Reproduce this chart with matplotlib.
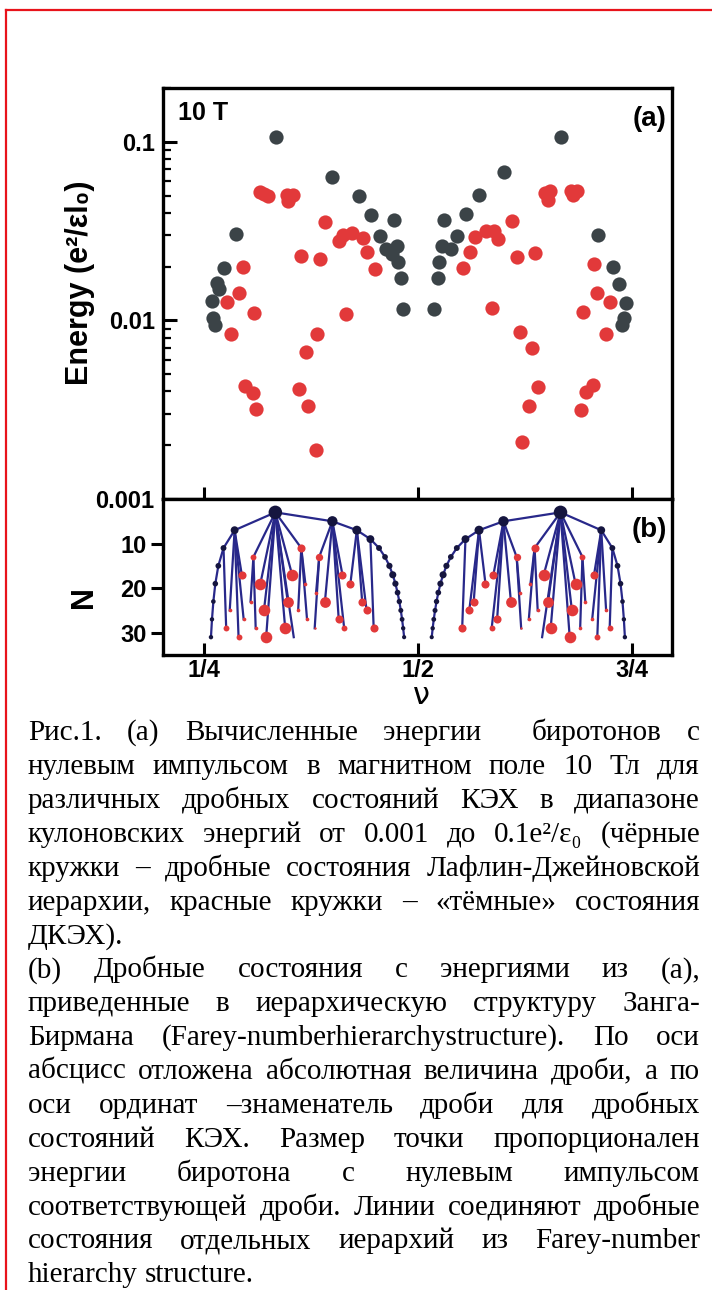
import matplotlib
matplotlib.use('Agg')
import matplotlib.pyplot as plt
from matplotlib.lines import Line2D
from matplotlib.ticker import LogLocator, NullFormatter

plt.rcParams['font.family'] = ['Liberation Sans', 'DejaVu Sans']

# ---- panel (a): energies ----
dark_nu = [0.334, 0.287, 0.273, 0.265, 0.268, 0.259, 0.260, 0.263,
           0.400, 0.431, 0.445, 0.472, 0.456, 0.463, 0.470, 0.475, 0.477, 0.480, 0.483,
           0.667, 0.601, 0.571, 0.556, 0.531, 0.546, 0.528, 0.539, 0.525, 0.523, 0.519,
           0.710, 0.728, 0.735, 0.743, 0.741, 0.739]
dark_E = [0.107, 0.0303, 0.0196, 0.0162, 0.0150, 0.0128, 0.0103, 0.0094,
          0.0633, 0.0499, 0.0388, 0.0363, 0.0295, 0.0250, 0.0235, 0.0261, 0.0211, 0.0172, 0.01155,
          0.107, 0.0676, 0.0506, 0.0395, 0.0367, 0.0297, 0.0261, 0.0250, 0.0212, 0.0173, 0.0116,
          0.0300, 0.0200, 0.0160, 0.0125, 0.0103, 0.0094]

red_nu = [0.3205, 0.325, 0.3154, 0.3466, 0.3543, 0.3485, 0.2952, 0.2913, 0.2772, 0.3088,
          0.2812, 0.2979, 0.3069, 0.3107, 0.3639, 0.3855, 0.3914, 0.408, 0.4127, 0.4225,
          0.4361, 0.4408, 0.4498, 0.4155, 0.3824, 0.3692, 0.3614, 0.3711, 0.3805,
          0.6484, 0.654, 0.6522, 0.6795, 0.6854, 0.6807, 0.6102, 0.6153, 0.6367, 0.5938,
          0.5891, 0.5794, 0.5666, 0.5607, 0.5522, 0.5867, 0.6198, 0.6328, 0.6405, 0.63,
          0.6218, 0.706, 0.7099, 0.7243, 0.6924, 0.7204, 0.7048, 0.6963, 0.6904]
red_E = [0.0511, 0.0495, 0.052, 0.0506, 0.0506, 0.0464, 0.0200, 0.0143, 0.0127, 0.0110,
         0.00844, 0.00427, 0.00392, 0.00319, 0.0228, 0.0220, 0.0357, 0.0278, 0.0300, 0.0310,
         0.0290, 0.0240, 0.0194, 0.0109, 0.00844, 0.00667, 0.00414, 0.0033, 0.00187,
         0.0516, 0.0527, 0.0474, 0.0527, 0.0532, 0.0501, 0.0359, 0.0227, 0.0237, 0.0284,
         0.0316, 0.0316, 0.0294, 0.0240, 0.0196, 0.0117, 0.00862, 0.00696, 0.00423, 0.0033,
         0.00208, 0.0206, 0.0142, 0.0126, 0.0112, 0.00836, 0.00435, 0.00398, 0.00314]

# ---- panel (b): hierarchy of fractions (numerator, denominator) ----
arc_den = [31, 27, 23, 19, 15, 11, 7, 3, 5, 7, 9, 11, 13, 15, 17, 19, 21, 23, 25, 27, 29, 31]
arcL_num = [8, 7, 6, 5, 4, 3, 2, 1, 2, 3, 4, 5, 6, 7, 8, 9, 10, 11, 12, 13, 14, 15]
arcR_num = [23, 20, 17, 14, 11, 8, 5, 2, 3, 4, 5, 6, 7, 8, 9, 10, 11, 12, 13, 14, 15, 16]
arc_size = [10, 10, 11, 16, 17, 18, 32, 95, 55, 42, 32, 18, 17, 20, 26, 20, 17, 15, 13, 12, 10, 9]

# parent num, parent den, child num, child den, dot size
kids_left = [(2, 7, 5, 17, 34), (2, 7, 7, 25, 7), (3, 11, 8, 29, 18), (2, 7, 8, 27, 7),
             (2, 7, 9, 31, 18), (1, 3, 4, 13, 18), (4, 13, 7, 23, 7), (4, 13, 9, 29, 7),
             (1, 3, 6, 19, 70), (1, 3, 8, 25, 70), (1, 3, 10, 31, 70), (1, 3, 6, 17, 70),
             (1, 3, 8, 23, 60), (1, 3, 10, 29, 70), (1, 3, 11, 31, 0), (1, 3, 4, 11, 34),
             (4, 11, 7, 19, 7), (4, 11, 9, 25, 7), (4, 11, 10, 27, 7), (2, 5, 5, 13, 28),
             (5, 13, 8, 21, 7), (5, 13, 11, 29, 3), (2, 5, 9, 23, 60), (2, 5, 7, 17, 34),
             (2, 5, 11, 27, 34), (2, 5, 12, 29, 18), (3, 7, 8, 19, 34), (3, 7, 10, 23, 34),
             (3, 7, 11, 25, 34), (4, 9, 13, 29, 34)]
kids_right = [(5, 7, 12, 17, 34), (5, 7, 18, 25, 7), (8, 11, 21, 29, 18), (5, 7, 19, 27, 7),
              (5, 7, 22, 31, 18), (2, 3, 9, 13, 18), (9, 13, 16, 23, 7), (9, 13, 20, 29, 7),
              (2, 3, 13, 19, 70), (2, 3, 17, 25, 70), (2, 3, 21, 31, 70), (2, 3, 11, 17, 70),
              (2, 3, 15, 23, 60), (2, 3, 19, 29, 70), (2, 3, 20, 31, 0), (2, 3, 7, 11, 34),
              (7, 11, 12, 19, 7), (7, 11, 16, 25, 7), (7, 11, 17, 27, 7), (3, 5, 8, 13, 28),
              (8, 13, 13, 21, 7), (8, 13, 18, 29, 3), (3, 5, 14, 23, 60), (3, 5, 10, 17, 34),
              (3, 5, 16, 27, 34), (3, 5, 17, 29, 18), (4, 7, 11, 19, 34), (4, 7, 13, 23, 34),
              (4, 7, 14, 25, 34), (5, 9, 16, 29, 34)]

x_ticks = [0.25, 0.5, 0.75]
x_ticklabels = ['1/4', '1/2', '3/4']

caption_lines = [
    'Рис.1. (a) Вычисленные энергии  биротонов с',
    'нулевым импульсом в магнитном поле 10 Тл для',
    'различных дробных состояний КЭХ в диапазоне',
    'кулоновских энергий от 0.001 до 0.1e²/ε₀ (чёрные',
    'кружки – дробные состояния Лафлин-Джейновской',
    'иерархии, красные кружки – «тёмные» состояния',
    'ДКЭХ).',
    '(b) Дробные состояния с энергиями из (а),',
    'приведенные в иерархическую структуру Занга-',
    'Бирмана (Farey-numberhierarchystructure). По оси',
    'абсцисс отложена абсолютная величина дроби, а по',
    'оси ординат –знаменатель дроби для дробных',
    'состояний КЭХ. Размер точки пропорционален',
    'энергии биротона с нулевым импульсом',
    'соответствующей дроби. Линии соединяют дробные',
    'состояния отдельных иерархий из Farey-number',
    'hierarchy structure.',
]
paragraph_ends = [6, 16]

W, H = 712, 1290
def fx(px):
    return px / W
def fy(py):
    return 1 - py / H

dark_c = '#3b4347'
red_c = '#e2393a'
line_c = '#28288a'
node_c = '#15153f'

fig = plt.figure(figsize=(W / 100, H / 100), dpi=100)

ax_a = fig.add_axes([fx(163), fy(499), fx(672) - fx(163), fy(88) - fy(499)])
ax_b = fig.add_axes([fx(163), fy(655), fx(672) - fx(163), fy(499) - fy(655)], sharex=ax_a)

# panel (a)
ax_a.scatter(red_nu, red_E, s=105, c=red_c, lw=0, zorder=2)
ax_a.scatter(dark_nu, dark_E, s=105, c=dark_c, lw=0, zorder=3)
ax_a.set_yscale('log')
ax_a.set_ylim(0.001, 0.2)
ax_a.set_xlim(0.202, 0.797)
ax_a.set_yticks([0.001, 0.01, 0.1])
ax_a.set_yticklabels(['0.001', '0.01', '0.1'], fontsize=17, fontweight='bold')
ax_a.yaxis.set_minor_locator(LogLocator(base=10, subs=range(2, 10)))
ax_a.yaxis.set_minor_formatter(NullFormatter())
ax_a.tick_params(axis='y', which='major', direction='in', length=10, width=2.2, pad=6)
ax_a.tick_params(axis='y', which='minor', direction='in', length=6, width=1.6)
ax_a.set_xticks(x_ticks)
ax_a.tick_params(axis='x', direction='in', length=9, width=2.2, labelbottom=False)
ax_a.text(0.03, 0.94, '10 T', transform=ax_a.transAxes, fontsize=18,
          fontweight='bold', va='center', ha='left')
ax_a.text(0.99, 0.925, '(a)', transform=ax_a.transAxes, fontsize=20,
          fontweight='bold', va='center', ha='right')

# panel (b)
for nums in [arcL_num, arcR_num]:
    xs = [n / d for n, d in zip(nums, arc_den)]
    ax_b.plot(xs, arc_den, color=line_c, lw=1.6, zorder=1)
    ax_b.scatter(xs, arc_den, s=arc_size, c=node_c, lw=0, zorder=3)
for pn, pd, cn, cd, s in kids_left + kids_right:
    ax_b.plot([pn / pd, cn / cd], [pd, cd], color=line_c, lw=1.6, zorder=1)
    if s:
        ax_b.scatter([cn / cd], [cd], s=s, c=red_c, lw=0, zorder=2)
ax_b.set_ylim(35, 0)
ax_b.set_yticks([10, 20, 30])
ax_b.set_yticklabels(['10', '20', '30'], fontsize=17, fontweight='bold')
ax_b.tick_params(axis='y', direction='out', length=9, width=2.2, pad=3)
ax_b.set_xticks(x_ticks)
ax_b.set_xticklabels(x_ticklabels, fontsize=17, fontweight='bold')
ax_b.tick_params(axis='x', direction='in', length=9, width=2.2, pad=3)
ax_b.text(0.99, 0.80, '(b)', transform=ax_b.transAxes, fontsize=20,
          fontweight='bold', va='center', ha='right')

for ax in (ax_a, ax_b):
    for sp in ax.spines.values():
        sp.set_linewidth(2.4)

fig.text(fx(80), fy(283), 'Energy (e²/εl₀)', rotation=90, fontsize=22,
         fontweight='bold', ha='center', va='center')
fig.text(fx(84), fy(597), 'N', rotation=90, fontsize=22,
         fontweight='bold', ha='center', va='center')
fig.text(fx(421), fy(695), 'ν', fontsize=22, family=['DejaVu Sans'],
         ha='center', va='center')

# caption, justified between two margins
serif = ['Liberation Serif', 'DejaVu Serif']
renderer = fig.canvas.get_renderer()
left, right = 28, 700
space_px = 0.25 * 21 * 100 / 72
for i, line in enumerate(caption_lines):
    yb = fy(740 + 33.9 * i)
    words = line.split(' ')
    arts = [fig.text(0, yb, w, fontsize=21, family=serif, va='baseline') for w in words]
    wid = [a.get_window_extent(renderer).width if w else 0 for a, w in zip(arts, words)]
    if i in paragraph_ends or len(words) == 1:
        gap = space_px
    else:
        gap = (right - left - sum(wid)) / (len(words) - 1)
    x = left
    for a, w in zip(arts, wid):
        a.set_x(x / W)
        x += w + gap

# red frame
fig.add_artist(Line2D([fx(6), 1], [fy(10), fy(10)], color='#e8131b', lw=1.6,
                      transform=fig.transFigure))
fig.add_artist(Line2D([fx(6), fx(6)], [fy(10), 0], color='#e8131b', lw=1.6,
                      transform=fig.transFigure))

fig.savefig('out.png', dpi=100)
